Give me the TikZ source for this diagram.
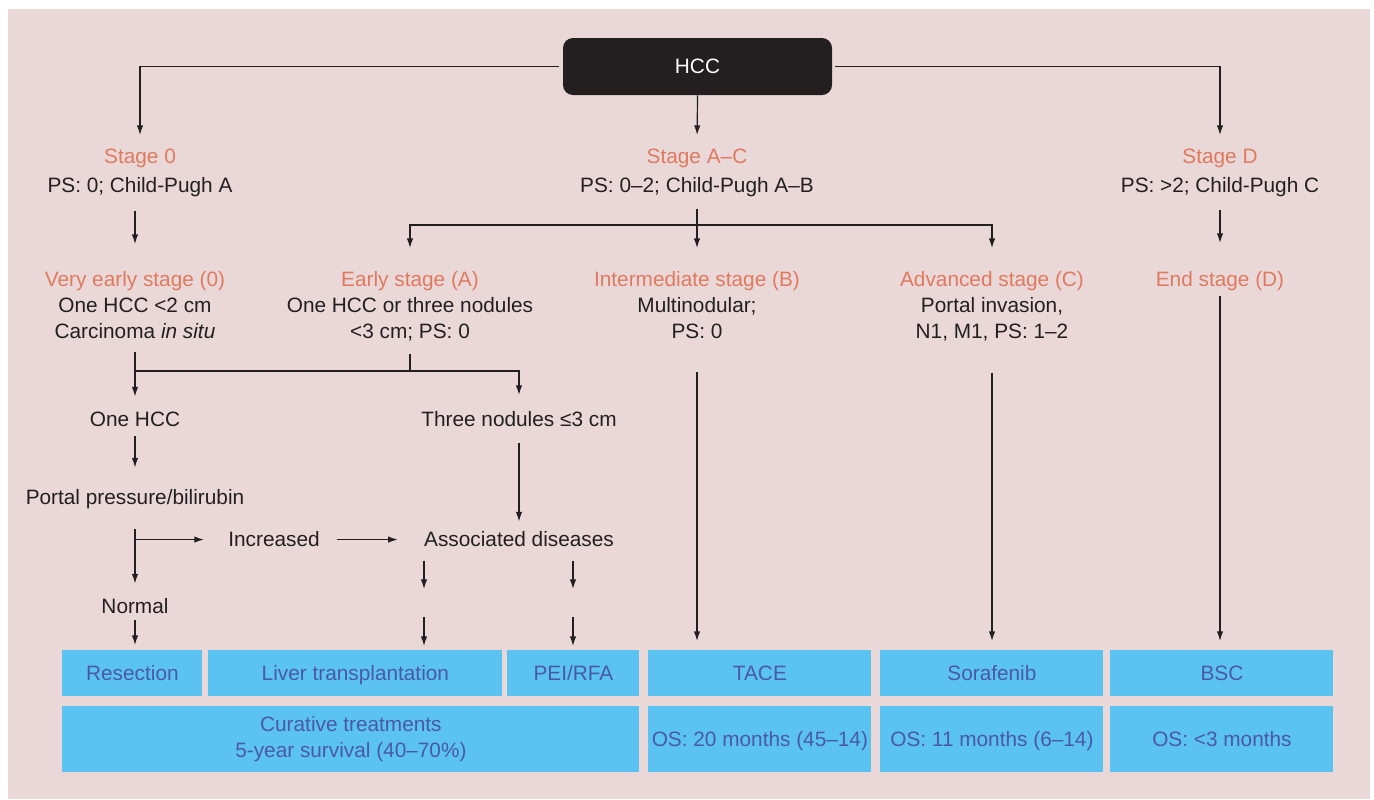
\documentclass[tikz,border=0pt]{standalone}
\usepackage{fontspec}
\setmainfont{Liberation Sans}
\usetikzlibrary{arrows.meta,positioning}

\definecolor{bgpink}{HTML}{EAD8D8}
\definecolor{ink}{HTML}{231F20}
\definecolor{stagecol}{HTML}{DF7A5E}
\definecolor{boxblue}{HTML}{5BC3F1}
\definecolor{boxtext}{HTML}{4A58A8}

\begin{document}
\begin{tikzpicture}[x=0.5pt, y=-0.5pt, font=\fontsize{10.4}{13}\selectfont, text=ink]

% Define styles
\tikzstyle{txt} = [align=center, inner sep=0pt, anchor=north]
\tikzstyle{treat} = [fill=boxblue, text=boxtext, align=center, inner sep=0pt, anchor=north west]
\tikzstyle{oneline} = [text height=8.6pt, text depth=1.2pt]
\tikzstyle{line} = [draw=ink, line width=0.6pt]
\tikzstyle{arrow} = [line, ->, >={Latex[length=4.8pt,width=3.2pt]}]

% Background
\useasboundingbox (0,0) rectangle (1374,799);
\fill[bgpink] (8,9) rectangle (1370,799);

% Nodes
\node [fill=ink, text=white, rounded corners=5pt, minimum width=134.5pt, minimum height=28.5pt, inner sep=0pt] (hcc) at (697.5,66.5) {HCC};

\node [txt] (stage0) at (140,149) {\textcolor{stagecol}{Stage 0}\\[1.5pt]PS: 0; Child-Pugh A};
\node [txt] (stageAC) at (697,149) {\textcolor{stagecol}{Stage A--C}\\[1.5pt]PS: 0--2; Child-Pugh A--B};
\node [txt] (stageD) at (1220,149) {\textcolor{stagecol}{Stage D}\\[1.5pt]PS: >2; Child-Pugh C};

\node [txt] (veryearly) at (135,271) {\textcolor{stagecol}{Very early stage (0)}\\One HCC <2 cm\\Carcinoma \textit{in situ}};
\node [txt] (early) at (410,271) {\textcolor{stagecol}{Early stage (A)}\\One HCC or three nodules\\<3 cm; PS: 0};
\node [txt] (interB) at (697,271) {\textcolor{stagecol}{Intermediate stage (B)}\\Multinodular;\\PS: 0};
\node [txt] (advC) at (992,271) {\textcolor{stagecol}{Advanced stage (C)}\\Portal invasion,\\N1, M1, PS: 1--2};
\node [txt] (endD) at (1220,271) {\textcolor{stagecol}{End stage (D)}};

\node [txt] (onehcc) at (135,411.5) {One HCC};
\node [txt] (threenod) at (519,411) {Three nodules ≤3 cm};
\node [txt] (portal) at (135,489.5) {Portal pressure/bilirubin};
\node [txt] (increased) at (274,531.5) {Increased};
\node [txt] (assoc) at (519,531.5) {Associated diseases};
\node [txt] (normal) at (135,598.5) {Normal};

% Treatment boxes
\node [treat, oneline, minimum width=70pt, minimum height=23pt] (resect) at (62,650) {Resection};
\node [treat, oneline, minimum width=147pt, minimum height=23pt] (liver) at (208,650) {Liver transplantation};
\node [treat, oneline, minimum width=66pt, minimum height=23pt] (peirfa) at (507,650) {PEI/RFA};
\node [treat, oneline, minimum width=111.5pt, minimum height=23pt] (tace) at (648,650) {TACE};
\node [treat, oneline, minimum width=111.5pt, minimum height=23pt] (sora) at (880,650) {Sorafenib};
\node [treat, oneline, minimum width=111.5pt, minimum height=23pt] (bsc) at (1110,650) {BSC};

\node [treat, minimum width=288.5pt, minimum height=33pt] (curative) at (62,706) {Curative treatments\\5-year survival (40--70\%)};
\node [treat, oneline, minimum width=111.5pt, minimum height=33pt] (ostace) at (648,706) {OS: 20 months (45--14)};
\node [treat, oneline, minimum width=111.5pt, minimum height=33pt] (ossora) at (880,706) {OS: 11 months (6--14)};
\node [treat, oneline, minimum width=111.5pt, minimum height=33pt] (osbsc) at (1110,706) {OS: <3 months};

% Branch points
\coordinate (acsplit) at (697,225);
\coordinate (eabranch) at (410,371);
\coordinate (ltmid) at (424,589);
\coordinate (pemid) at (573,589);
\coordinate (ltlow) at (424,617);
\coordinate (pelow) at (573,617);

% Arrows
\draw [arrow, shorten <=2pt, shorten >=7pt] (hcc.west) -| (stage0.north);
\draw [arrow, shorten <=1.5pt, shorten >=7pt] (hcc.east) -| (stageD.north);
\draw [arrow, shorten >=7pt] (hcc.south) -- (stageAC.north);

\draw [arrow, shorten <=6.5pt, shorten >=13.5pt] (veryearly.north |- stage0.south) -- (veryearly.north);
\draw [arrow, shorten <=6pt, shorten >=14pt] (stageD.south) -- (endD.north);

\draw [line, shorten <=5.5pt] (stageAC.south) -- (acsplit);
\draw [arrow, shorten >=11.5pt] (acsplit) -| (early.north);
\draw [arrow, shorten >=11.5pt] (acsplit) -- (interB.north);
\draw [arrow, shorten >=11.5pt] (acsplit) -| (advC.north);

\draw [line, shorten <=6pt] (early.south) -- (eabranch);
\draw [arrow, shorten <=6.5pt, shorten >=7.5pt] (veryearly.south) -- (onehcc.north);
\draw [arrow, shorten >=8pt] (veryearly.south |- eabranch) -| (threenod.north);

\draw [arrow, shorten <=4.5pt, shorten >=11pt] (onehcc.south) -- (portal.north);
\draw [arrow, shorten <=9.5pt, shorten >=7.5pt] (portal.south) -- (normal.north);
\draw [arrow, shorten >=12pt] (portal.south |- increased) -- (increased.west);
\draw [arrow, shorten <=8.5pt, shorten >=13pt] (increased.east) -- (assoc.west);
\draw [arrow, shorten <=8pt, shorten >=5pt] (threenod.south) -- (assoc.north);

\draw [arrow, shorten <=6.5pt] (assoc.south -| ltmid) -- (ltmid);
\draw [arrow, shorten <=6.5pt] (assoc.south -| pemid) -- (pemid);
\draw [arrow, shorten >=2pt] (ltlow) -- (ltlow |- liver.north);
\draw [arrow, shorten >=2pt] (pelow) -- (pelow |- peirfa.north);
\draw [arrow, shorten <=2.5pt, shorten >=2.5pt] (normal.south) -- (normal.south |- resect.north);

\draw [arrow, shorten <=16.5pt, shorten >=4.5pt] (interB.south) -- (interB.south |- tace.north);
\draw [arrow, shorten <=15.5pt, shorten >=4.5pt] (advC.south) -- (advC.south |- sora.north);
\draw [arrow, shorten <=2.5pt, shorten >=4.5pt] (endD.south) -- (endD.south |- bsc.north);

\end{tikzpicture}
\end{document}
